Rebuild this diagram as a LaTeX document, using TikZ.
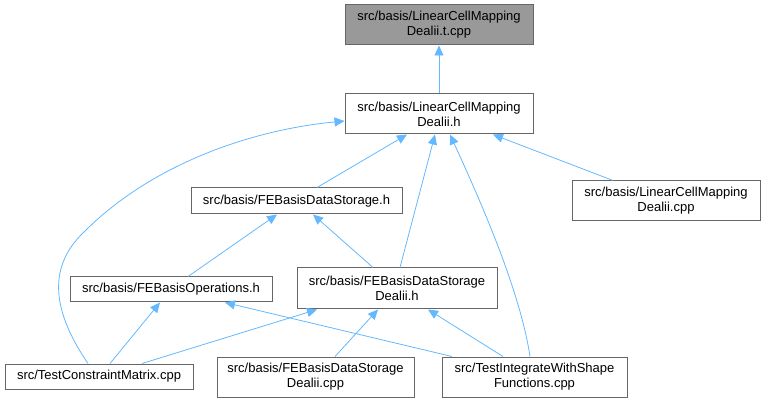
\documentclass[tikz,border=0pt]{standalone}
\usepackage{fontspec}
\setmainfont{Liberation Sans}
\usetikzlibrary{arrows.meta}
\definecolor{edgeblue}{HTML}{63B8FF}
\definecolor{boxgray}{HTML}{666666}
\definecolor{fillgray}{HTML}{999999}
\begin{document}
\begin{tikzpicture}[x=1pt,y=-1pt,
  box/.style={draw=boxgray,line width=1pt,fill=white,rectangle,inner sep=0pt,
    align=center,font=\fontsize{13}{15}\selectfont,minimum height=#1},
  box/.default=40pt,
  dep/.style={draw=edgeblue,line width=0.8pt,-{Triangle[length=10pt,width=9pt]}}]
\useasboundingbox (0,0) rectangle (763,403);
\node[box,fill=fillgray,minimum width=188pt] (n1) at (439,25) {src/basis/LinearCellMapping\\Dealii.t.cpp};
\node[box,minimum width=188pt] (n2) at (439,114) {src/basis/LinearCellMapping\\Dealii.h};
\node[box=26pt,minimum width=211pt] (n3) at (296.5,201) {src/basis/FEBasisDataStorage.h};
\node[box,minimum width=188pt] (n4) at (666,201) {src/basis/LinearCellMapping\\Dealii.cpp};
\node[box=25pt,minimum width=202pt] (n5) at (171,289.5) {src/basis/FEBasisOperations.h};
\node[box=41pt,minimum width=200pt] (n6) at (397,288.5) {src/basis/FEBasisDataStorage\\Dealii.h};
\node[box=25pt,minimum width=188pt] (n7) at (99,376.5) {src/TestConstraintMatrix.cpp};
\node[box,minimum width=197pt] (n8) at (315.5,377) {src/basis/FEBasisDataStorage\\Dealii.cpp};
\node[box,minimum width=185pt] (n9) at (534.5,377) {src/TestIntegrateWithShape\\Functions.cpp};

\draw[dep] (n2.north) -- (n1.south);
\draw[dep] ([xshift=20.5pt]n3.north) -- ([xshift=-32pt]n2.south);
\draw[dep] ([xshift=-53pt]n4.north) -- ([xshift=54pt]n2.south);
\draw[dep] ([xshift=3pt]n6.north) -- ([xshift=-4pt]n2.south);
\draw[dep] ([xshift=-4.5pt]n9.north) .. controls (520,290) and (480,200) .. ([xshift=11pt]n2.south);
\draw[dep] ([xshift=-11pt]n7.north) .. controls (55,315) and (45,270) .. (83,233)
   .. controls (150,165) and (250,130) .. ([yshift=-7pt]n2.west);
\draw[dep] ([xshift=17pt]n5.north) -- ([xshift=-19.5pt]n3.south);
\draw[dep] ([xshift=-24pt]n6.north) -- ([xshift=16.5pt]n3.south);
\draw[dep] ([xshift=11pt]n7.north) -- ([xshift=-11pt]n5.south);
\draw[dep] ([xshift=-82.5pt]n9.north) -- ([xshift=54pt]n5.south);
\draw[dep] ([xshift=43pt]n7.north) -- ([xshift=-80pt]n6.south);
\draw[dep] ([xshift=19.5pt]n8.north) -- ([xshift=-19pt]n6.south);
\draw[dep] ([xshift=-31.5pt]n9.north) -- ([xshift=31pt]n6.south);
\end{tikzpicture}
\end{document}
